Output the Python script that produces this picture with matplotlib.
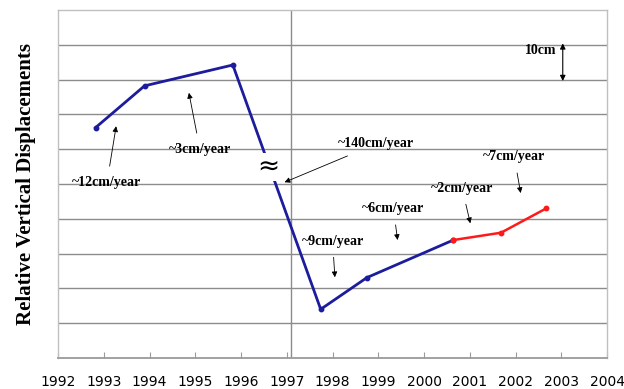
import matplotlib
matplotlib.use("Agg")
import matplotlib.pyplot as plt

# Displacement series (cm, relative)
blue_years = [1992.82, 1993.89, 1995.82, 1997.74, 1998.75, 2000.64]
blue_values = [66.2, 78.2, 84.2, 14.0, 23.1, 33.9]
red_years = [2000.64, 2001.68, 2002.67]
red_values = [33.9, 36.0, 43.0]

year_ticks = list(range(1992, 2005))
grid_levels = list(range(10, 100, 10))
event_year = 1997.1

# (label, text position, arrow tip)
rate_notes = [
    ("~12cm/year", (1993.07, 50.5), (1993.27, 66.6)),
    ("~3cm/year", (1995.1, 60.0), (1994.86, 76.2)),
    ("~140cm/year", (1998.95, 61.5), (1996.95, 50.5)),
    ("~7cm/year", (2001.97, 57.8), (2002.11, 47.4)),
    ("~2cm/year", (2000.83, 48.8), (2001.01, 38.7)),
    ("~6cm/year", (1999.33, 42.9), (1999.42, 33.9)),
    ("~9cm/year", (1998.0, 33.6), (1998.05, 23.2)),
]

fig = plt.figure(figsize=(6.24, 3.89), dpi=100)
ax = fig.add_axes([0.093, 0.0797, 0.88, 0.8946])

ax.set_xlim(1992, 2004)
ax.set_ylim(0, 100)

grid_color = "#8c8c8c"
for lvl in grid_levels:
    ax.axhline(lvl, color=grid_color, lw=1.0, zorder=1)
ax.axvline(event_year, color=grid_color, lw=1.0, zorder=1)

for side in ("left", "bottom", "top", "right"):
    ax.spines[side].set_color("#c0c0c0")
    ax.spines[side].set_linewidth(1.0)
ax.spines["bottom"].set_color("#9a9a9a")
ax.spines["bottom"].set_linewidth(1.3)

ax.plot(blue_years, blue_values, color="#1c1c9c", lw=2.0, marker="o",
        ms=3.2, zorder=3)
ax.plot(red_years, red_values, color="#ff1a1a", lw=1.8, marker="o",
        ms=3.2, zorder=3)

# break symbol on the steep drop
ax.text(1996.6, 55.0, "\u2248", fontsize=19, family="DejaVu Sans",
        ha="center", va="center", zorder=4,
        bbox=dict(facecolor="white", edgecolor="none", pad=0.8))

note_font = dict(family="Liberation Serif", weight="bold", fontsize=10)
for label, (tx, ty), (ax_, ay) in rate_notes:
    ax.annotate(label, xy=(ax_, ay), xytext=(tx, ty), ha="center",
                va="center", zorder=5, **note_font,
                arrowprops=dict(arrowstyle="-|>", color="black", lw=0.6,
                                mutation_scale=8, shrinkA=5, shrinkB=0))

# scale bar
ax.text(2002.55, 88.5, "10cm", ha="center", va="center", zorder=5,
        **note_font)
ax.annotate("", xy=(2003.03, 90.4), xytext=(2003.03, 79.6), zorder=5,
            arrowprops=dict(arrowstyle="<|-|>", color="black", lw=0.8,
                            mutation_scale=8, shrinkA=0, shrinkB=0))

ax.set_xticks(year_ticks)
ax.set_xticklabels([str(y) for y in year_ticks], fontsize=10,
                   family="DejaVu Sans")
ax.tick_params(axis="x", direction="in", length=4, color="#9a9a9a",
               pad=12)
ax.set_yticks([])

ax.set_ylabel("Relative Vertical Displacements", family="Liberation Serif",
              weight="bold", fontsize=15, labelpad=16)

fig.savefig("out.png", dpi=100)
